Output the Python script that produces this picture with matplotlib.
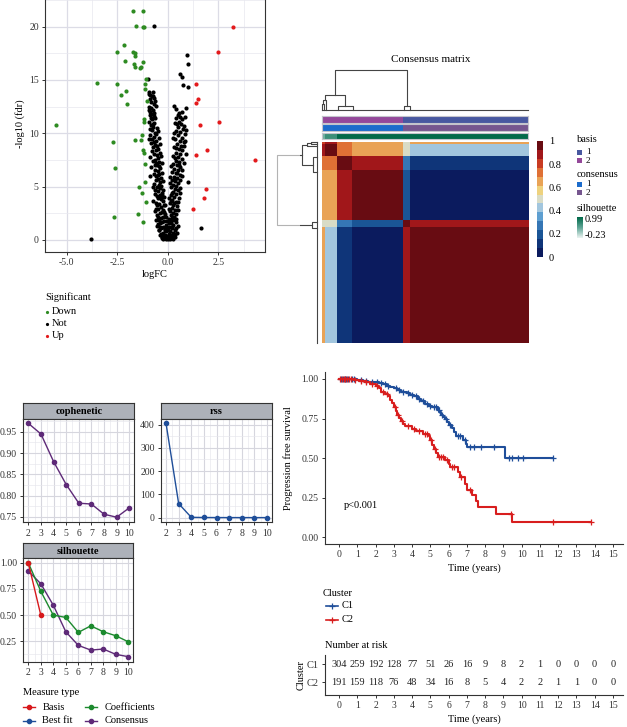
import numpy as np
import matplotlib
matplotlib.use("Agg")
import matplotlib.pyplot as plt
from matplotlib.colors import ListedColormap, LinearSegmentedColormap
from matplotlib.patches import Rectangle

W, H = 627, 727
plt.rcParams["font.family"] = ["Liberation Serif", "DejaVu Serif"]

# ---------------- volcano data ----------------
down_x = [-1.70, -1.21, -1.57, -1.24, -1.16, -2.15, -2.50, -1.70, -1.62, -1.61, -2.13, -1.21,
          -1.67, -1.64, -1.40, -1.34, -1.09, -3.52, -2.52, -1.13, -1.11, -2.08, -2.33, -1.03,
          -2.03, -1.18, -1.18, -5.55, -1.29, -1.64, -1.34, -2.70, -1.21, -1.18, -1.14, -2.61,
          -1.11, -1.44, -1.27, -1.09, -1.49, -2.68, -1.21]
down_y = [21.47, 21.47, 20.1, 19.94, 19.94, 18.3, 17.6, 17.6, 17.5, 17.25, 16.75, 16.7,
          16.5, 16.2, 16.1, 16.25, 15.1, 14.75, 14.6, 14.65, 14.15, 14.0, 13.6, 13.03,
          12.7, 11.3, 11.05, 10.8, 9.8, 9.35, 9.35, 9.2, 8.4, 8.2, 7.15, 6.75,
          5.45, 4.95, 4.45, 3.6, 2.45, 2.2, 1.7]
up_x = [3.25, 2.50, 1.38, 1.48, 1.38, 2.52, 1.60, 1.93, 1.38, 4.32, 1.87, 1.77, 1.26]
up_y = [19.94, 17.6, 14.6, 13.2, 12.8, 11.1, 10.8, 8.45, 8.0, 7.5, 4.8, 3.95, 2.95]
not_x = [-0.66, -3.80, 1.66, 1.02, 0.94, 1.02, 0.62, 0.71, 0.76, 1.00, -1.00,
         -0.95, -0.88, -0.80, -0.72, -0.66, -0.90, -0.62, -0.85, -0.70, -0.92, -0.83, -0.74,
         -0.88, -0.80, -0.70, -0.85, -0.78, -0.95, -0.66,
         -0.72, -0.55, -0.80, -0.50, -0.62, -0.88, -0.70, -0.45, -0.78, -0.58, -0.66, -0.40,
         -0.52, -0.72, -0.48,
         -0.60, -0.40, -0.55, -0.35, -0.50, -0.62, -0.42, -0.30, -0.55, -0.45, -0.38, -0.65,
         -0.50, -0.28, -0.42, -0.58, -0.35, -0.48, -0.25, -0.40, -0.70, -0.32,
         -0.55, -0.38, -0.22, -0.48, -0.30, -0.62, -0.40, -0.18, -0.50, -0.33, -0.26, -0.58,
         -0.42, -0.15, -0.36, -0.48, -0.22, -0.65, -0.30, -0.40,
         -0.12, -0.52, -0.25, -0.35, -0.45, -0.18, -0.28, -0.40, -0.10, -0.55, -0.22, -0.32,
         -0.15, -0.42, -0.08, -0.26, -0.36, -0.12, -0.20, -0.30, -0.05, -0.16, -0.25, -0.10,
         0.30, 0.38, 0.55, 0.48, 0.62, 0.42, 0.72, 0.55, 0.35, 0.66, 0.80, 0.50, 0.75, 0.40, 0.62,
         0.85, 0.48, 0.70, 0.35, 0.58, 0.80, 0.45, 0.65, 0.30, 0.55, 0.72, 0.40, 0.62, 0.28,
         0.50, 0.68,
         0.38, 0.55, 0.25, 0.45, 0.62, 0.32, 0.50, 0.22, 0.40, 0.58, 0.30, 0.45, 0.20, 0.36,
         0.52, 0.26, 0.42,
         0.18, 0.34, 0.48, 0.25, 0.40, 0.15, 0.30, 0.55, 0.22, 0.38, 0.12, 0.28, 0.45, 0.20,
         0.35, 0.10, 0.26,
         0.42, 0.16, 0.32, 0.08, 0.24, 0.38, 0.14, 0.28, 0.06, 0.20, 0.34, 0.10, 0.24, 0.04,
         0.16, 0.28, 0.08, 0.18, 0.02, 0.12,
         -0.05, 0.05, -0.08, 0.12, -0.18, 0.20, -0.02, 0.03, -0.14, 0.10, -0.20, 0.15, -0.28,
         0.22, -0.10, 0.06, -0.35, 0.30, -0.45, 0.35, -0.50, 0.45, -0.60, 0.55, -0.32, 0.36,
         -0.40, 0.42,
         -0.92, -0.75, -0.60, -0.95, -0.68, -0.90, -0.62, -0.75, -0.90, -0.85, -0.60, -0.95,
         -0.85, -0.62, -0.80, -0.70, -0.90, -0.75, -0.62, -0.82, -0.70, -0.88, -0.60, -0.75,
         -0.65, -0.55, -0.72, -0.52, -0.60, -0.48, -0.60, -0.50, -0.45, -0.38, -0.28,
         0.88, 0.70, 0.85, 0.45, 0.90, 0.30, 0.85, 0.25, 0.78, 0.42, 0.88, 0.35, 0.78, 0.68,
         0.15, 0.70, 0.62, 0.12, 0.60, 0.10, 0.62, 0.50, 0.08, 0.48, 0.40, 0.50, 0.45, 0.35,
         0.25, 0.22]
not_y = [20.1, 0.12, 1.15, 5.47, 17.3, 16.5, 15.6, 15.25, 14.5, 14.3, 15.1,
         13.7, 13.6, 13.5, 13.45, 13.3, 13.2, 13.0, 12.9, 12.75, 12.5, 12.35, 12.2,
         12.0, 11.8, 11.6, 11.45, 11.3, 11.1, 11.0,
         10.6, 10.5, 10.3, 10.2, 10.0, 9.85, 9.7, 9.6, 9.45, 9.3, 9.15, 9.0,
         8.85, 8.7, 8.55,
         8.4, 8.2, 8.0, 7.85, 7.7, 7.5, 7.35, 7.2, 7.05, 6.9, 6.75, 6.6,
         6.45, 6.3, 6.15, 6.0, 5.85, 5.7, 5.55, 5.4, 5.25, 5.1,
         4.95, 4.85, 4.7, 4.6, 4.45, 4.3, 4.2, 4.05, 3.95, 3.8, 3.65, 3.5,
         3.4, 3.25, 3.1, 2.95, 2.85, 2.7, 2.6, 2.5,
         2.4, 2.3, 2.2, 2.05, 1.9, 1.8, 1.65, 1.55, 1.45, 1.35, 1.25, 1.1,
         1.0, 0.9, 0.8, 0.7, 0.6, 0.5, 0.4, 0.3, 0.25, 0.15, 0.1, 0.05,
         12.55, 12.3, 11.9, 11.7, 11.55, 11.4, 11.3, 11.1, 11.0, 10.85, 10.7, 10.6, 10.4, 10.25, 10.1,
         9.95, 9.8, 9.6, 9.45, 9.3, 9.2, 9.0, 8.85, 8.7, 8.55, 8.4, 8.2, 8.05, 7.9,
         7.75, 7.6,
         7.45, 7.3, 7.15, 7.0, 6.85, 6.7, 6.55, 6.4, 6.25, 6.1, 5.95, 5.8, 5.65, 5.5,
         5.35, 5.2, 5.05,
         4.95, 4.8, 4.65, 4.5, 4.35, 4.2, 4.05, 3.9, 3.75, 3.6, 3.45, 3.3, 3.15, 3.0,
         2.85, 2.7, 2.55,
         2.45, 2.3, 2.15, 2.0, 1.85, 1.7, 1.55, 1.4, 1.25, 1.1, 0.95, 0.85, 0.7, 0.6,
         0.45, 0.35, 0.25, 0.15, 0.08, 0.05,
         1.8, 1.6, 1.2, 1.9, 2.6, 2.1, 0.4, 0.9, 0.95, 0.3, 3.3, 3.7, 4.2,
         4.4, 2.2, 2.9, 3.9, 3.5, 5.2, 5.7, 6.1, 6.3, 7.2, 7.0, 0.45, 0.55,
         1.2, 1.15,
         13.9, 13.85, 12.6, 12.2, 11.9, 11.7, 11.4, 10.9, 10.4, 10.8, 9.9, 9.5,
         9.1, 8.95, 8.3, 8.1, 7.8, 7.4, 7.0, 6.8, 6.2, 6.0, 5.6, 5.0,
         4.7, 4.1, 3.7, 3.3, 2.9, 2.2, 1.9, 1.5, 0.95, 0.5, 0.2,
         12.4, 12.0, 11.5, 10.9, 10.3, 10.0, 9.3, 9.6, 8.8, 8.6, 8.1, 7.7, 7.2, 6.6,
         6.9, 6.0, 5.6, 5.9, 4.9, 5.3, 4.4, 3.6, 3.9, 2.8, 2.0, 1.3, 0.7, 0.25,
         0.1, 1.2]

# ---------------- consensus matrix data ----------------
group_sizes = [7, 29, 36, 121, 17, 285]
block_values = np.array([
    [0.80, 0.85, 0.70, 0.62, 0.50, 0.62],
    [0.85, 0.99, 0.70, 0.62, 0.50, 0.42],
    [0.70, 0.70, 0.99, 0.85, 0.30, 0.15],
    [0.62, 0.62, 0.85, 0.95, 0.20, 0.03],
    [0.50, 0.50, 0.30, 0.20, 0.99, 0.85],
    [0.62, 0.42, 0.15, 0.03, 0.85, 0.96]])
group_basis = [2, 2, 2, 2, 1, 1]
group_consensus = [1, 1, 1, 1, 2, 2]
group_silhouette = [0.3, 0.6, 0.97, 0.97, 0.97, 0.97]
dendro_leaves = [0.003, 0.012, 0.021, 0.077, 0.153, 0.40, 0.427]
dendro_merges = [(0, 1, 0.14), (7, 2, 0.25), (3, 4, 0.10), (8, 9, 0.375), (5, 6, 0.108), (10, 11, 1.0)]
heat_colors = ["#0b1b5e", "#0f3579", "#1a5596", "#3576b5", "#5e9fd1", "#a2c6de", "#d9dcc6",
               "#eed27e", "#e9a356", "#df7035", "#c83b22", "#a1171a", "#680c12"]
basis_colors = {1: "#4858a0", 2: "#94489a"}
consensus_colors = {1: "#1c6ccc", 2: "#76568f"}

# ---------------- NMF rank survey ----------------
ranks = [2, 3, 4, 5, 6, 7, 8, 9, 10]
cophenetic = [0.970, 0.945, 0.880, 0.826, 0.782, 0.780, 0.756, 0.749, 0.771]
rss = [405, 60, 1.2, 0.4, 0.2, 0.1, 0.05, 0.02, 0.01]
sil_basis = [1.00, 0.50]
sil_coef = [1.00, 0.728, 0.50, 0.478, 0.335, 0.398, 0.341, 0.303, 0.245]
sil_cons = [0.922, 0.80, 0.595, 0.341, 0.211, 0.166, 0.176, 0.125, 0.103]
measure_colors = {"Basis": "#d7191c", "Best fit": "#1f4e99",
                  "Coefficients": "#1c8a2e", "Consensus": "#5e2a78"}

# ---------------- survival ----------------
c1_times = [0, 0.6, 1.0, 1.3, 1.6, 1.9, 2.2, 2.4, 2.6, 2.8, 3.0, 3.2, 3.4, 3.7, 3.9, 4.1, 4.3,
            4.5, 4.7, 4.9, 5.1, 5.4, 5.5, 5.6, 5.7, 5.8, 5.9, 6.0, 6.2, 6.3, 6.4, 6.8, 6.95,
            7.0, 9.1, 11.7]
c1_surv = [1.0, 0.997, 0.993, 0.988, 0.984, 0.978, 0.972, 0.966, 0.958, 0.95, 0.94, 0.93,
           0.918, 0.91, 0.90, 0.89, 0.875, 0.86, 0.845, 0.83, 0.82, 0.805, 0.79, 0.775, 0.76,
           0.745, 0.73, 0.71, 0.69, 0.665, 0.64, 0.615, 0.59, 0.57, 0.50, 0.50]
c2_times = [0, 0.8, 1.1, 1.4, 1.7, 2.0, 2.2, 2.3, 2.5, 2.7, 2.8, 2.9, 3.0, 3.1, 3.2, 3.3, 3.4,
            3.5, 3.6, 4.0, 4.2, 4.6, 4.9, 5.0, 5.1, 5.2, 5.3, 5.4, 5.8, 6.0, 6.1, 6.5, 6.6,
            6.9, 7.0, 7.3, 7.5, 7.6, 8.6, 9.5, 13.8]
c2_surv = [1.0, 0.995, 0.985, 0.978, 0.97, 0.958, 0.94, 0.92, 0.905, 0.89, 0.87, 0.85, 0.82,
           0.795, 0.775, 0.755, 0.735, 0.715, 0.70, 0.685, 0.67, 0.655, 0.64, 0.615, 0.585,
           0.555, 0.53, 0.51, 0.49, 0.465, 0.445, 0.41, 0.38, 0.34, 0.30, 0.265, 0.23, 0.19,
           0.15, 0.10, 0.10]
c1_censor = [0.1, 0.2, 0.3, 0.4, 0.5, 0.7, 0.8, 1.2, 1.5, 1.8, 2.1, 2.3, 2.5, 2.7, 3.1, 3.3,
             3.5, 3.8, 4.0, 4.2, 4.4, 4.6, 4.8, 5.0, 5.2, 5.3, 5.45, 5.65, 5.85, 6.1, 6.5,
             6.6, 6.9, 7.2, 7.4, 7.8, 8.5, 9.3, 9.5, 9.8, 10.1, 11.7]
c2_censor = [0.05, 0.15, 0.25, 0.35, 0.45, 0.55, 0.65, 0.9, 1.2, 1.5, 1.8, 2.1, 2.4, 2.6,
             3.05, 3.25, 3.45, 3.8, 4.1, 4.4, 4.7, 4.8, 5.05, 5.25, 5.5, 5.6, 5.7, 5.9, 6.2,
             6.3, 6.7, 7.2, 9.4, 11.7, 13.8]
risk_times = list(range(16))
risk_c1 = [304, 259, 192, 128, 77, 51, 26, 16, 9, 8, 2, 1, 0, 0, 0, 0]
risk_c2 = [191, 159, 118, 76, 48, 34, 16, 8, 5, 4, 2, 2, 1, 1, 0, 0]
km_colors = {"C1": "#1f4e9a", "C2": "#d81e1e"}

fig = plt.figure(figsize=(W / 100, H / 100), dpi=100)


def px_axes(x0, y0, x1, y1):
    return fig.add_axes([x0 / W, 1 - y1 / H, (x1 - x0) / W, (y1 - y0) / H])


def style_ticks(ax, size=7):
    ax.tick_params(labelsize=size, length=2.5, width=0.7, color="#333333",
                   labelcolor="#333333", pad=2)
    ax.tick_params(which="minor", length=0)


# ---------------- volcano ----------------
vol = px_axes(45, -5.4, 265, 252)
vol.scatter(not_x, not_y, s=9, color="black", lw=0, zorder=3)
vol.scatter(down_x, down_y, s=9, color="#2e8b22", lw=0, zorder=3)
vol.scatter(up_x, up_y, s=9, color="#e31a1c", lw=0, zorder=3)
vol.set_xlim(-6.08, 4.81)
vol.set_ylim(-1.125, 23.0)
vol.set_xticks([-5.0, -2.5, 0.0, 2.5])
vol.set_xticklabels(["-5.0", "-2.5", "0.0", "2.5"])
vol.set_xticks([-3.75, -1.25, 1.25, 3.75], minor=True)
vol.set_yticks([0, 5, 10, 15, 20])
vol.set_yticks([2.5, 7.5, 12.5, 17.5, 22.5], minor=True)
vol.grid(which="major", color="#dcdce6", lw=0.9)
vol.grid(which="minor", color="#e8e8ef", lw=0.5)
vol.set_axisbelow(True)
for s in vol.spines.values():
    s.set_color("#333333")
    s.set_linewidth(0.8)
style_ticks(vol)
vol.set_xlabel("logFC", fontsize=7.5, labelpad=2)
vol.set_ylabel("-log10 (fdr)", fontsize=7.5, labelpad=3)

# ---------------- consensus heatmap ----------------
labels = np.repeat(np.arange(len(group_sizes)), group_sizes)
cons_mat = block_values[np.ix_(labels, labels)]
hm = px_axes(321.7, 141.7, 528.3, 342.7)
im = hm.imshow(cons_mat, cmap=ListedColormap(heat_colors), vmin=0, vmax=1,
               aspect="auto", interpolation="nearest")
hm.axis("off")

track_rows = [
    (116, 122.7, np.array([basis_colors[group_basis[g]] for g in labels])),
    (124.3, 131, np.array([consensus_colors[group_consensus[g]] for g in labels])),
]
for y0, y1, cols in track_rows:
    ta = px_axes(321.7, y0, 528.3, y1)
    rgb = np.array([matplotlib.colors.to_rgb(c) for c in cols])[None, :, :]
    ta.imshow(rgb, aspect="auto", interpolation="nearest")
    ta.set_xticks([]); ta.set_yticks([])
    for s in ta.spines.values():
        s.set_color("#c4c4cc"); s.set_linewidth(0.8)
sil_cmap = LinearSegmentedColormap.from_list("sil", ["#eaf3f0", "#5fa596", "#006948"])
ta = px_axes(321.7, 132.7, 528.3, 139.3)
ta.imshow(np.array([group_silhouette[g] for g in labels])[None, :], cmap=sil_cmap,
          vmin=-0.23, vmax=0.99, aspect="auto", interpolation="nearest")
ta.set_xticks([]); ta.set_yticks([])
for s in ta.spines.values():
    s.set_color("#c4c4cc"); s.set_linewidth(0.8)


def draw_dendro(ax, orient):
    pos = list(dendro_leaves)
    hts = [0.0] * len(dendro_leaves)
    kw = dict(color="#444444", lw=0.8, clip_on=False)
    for a, b, h in dendro_merges:
        xs = [pos[a], pos[a], pos[b], pos[b]]
        ys = [hts[a], h, h, hts[b]]
        if orient == "top":
            ax.plot(xs, ys, **kw)
        else:
            ax.plot(ys, xs, **kw)
        pos.append((pos[a] + pos[b]) / 2)
        hts.append(h)
    if orient == "top":
        ax.plot([0, 1], [0, 0], **kw)
    else:
        ax.plot([0, 0], [0, 1], **kw)
    ax.axis("off")


dt = px_axes(321.7, 70, 528.3, 110)
dt.set_xlim(0, 1); dt.set_ylim(0, 1)
draw_dendro(dt, "top")
dl = px_axes(277, 141.7, 316.7, 342.7)
dl.set_xlim(1, 0); dl.set_ylim(1, 0)
draw_dendro(dl, "left")

cax = px_axes(536.7, 140.7, 543.3, 257.3)
cb = fig.colorbar(im, cax=cax, ticks=[0, 0.2, 0.4, 0.6, 0.8, 1])
cb.ax.set_yticklabels(["0", "0.2", "0.4", "0.6", "0.8", "1"])
cb.outline.set_visible(False)
cb.ax.tick_params(length=0, labelsize=7.5, pad=4)

sax = px_axes(577, 217.3, 582.5, 238.3)
sax.imshow(np.linspace(0.99, -0.23, 50)[:, None], cmap=sil_cmap, vmin=-0.23, vmax=0.99,
           aspect="auto")
sax.axis("off")

# ---------------- NMF rank survey panels ----------------


def nmf_panel(box, title, ylim, yticks, yticklabels, yminor):
    x0, y0, x1, y1 = box
    sh = 15.4
    st = px_axes(x0, y0, x1, y0 + sh)
    st.set_facecolor("#adb1b9")
    st.set_xticks([]); st.set_yticks([])
    for s in st.spines.values():
        s.set_color("#333333"); s.set_linewidth(0.8)
    st.text(0.5, 0.45, title, transform=st.transAxes, ha="center", va="center",
            fontsize=7.5, fontweight="bold")
    ax = px_axes(x0, y0 + sh, x1, y1)
    ax.set_xlim(1.6, 10.4)
    ax.set_ylim(*ylim)
    ax.set_xticks(ranks)
    ax.set_xticks(np.arange(2.5, 10.0, 1.0), minor=True)
    ax.set_yticks(yticks)
    ax.set_yticklabels(yticklabels)
    ax.set_yticks(yminor, minor=True)
    ax.grid(which="major", color="#d6d6de", lw=0.8)
    ax.grid(which="minor", color="#e6e6ec", lw=0.45)
    ax.set_axisbelow(True)
    for s in ax.spines.values():
        s.set_color("#333333"); s.set_linewidth(0.8)
    style_ticks(ax)
    return ax


ax_c = nmf_panel((23.3, 403.3, 134.3, 522.3), "cophenetic", (0.737, 0.981),
                 [0.75, 0.80, 0.85, 0.90, 0.95], ["0.75", "0.80", "0.85", "0.90", "0.95"],
                 [0.775, 0.825, 0.875, 0.925, 0.975])
ax_c.plot(ranks, cophenetic, "-o", color=measure_colors["Consensus"], ms=3, lw=1)

ax_r = nmf_panel((161, 403.3, 272, 522.3), "rss", (-20.25, 425.25),
                 [0, 100, 200, 300, 400], ["0", "100", "200", "300", "400"],
                 [50, 150, 250, 350])
ax_r.plot(ranks, rss, "-o", color=measure_colors["Best fit"], ms=3, lw=1)

ax_s = nmf_panel((23.3, 542.7, 133.3, 661.7), "silhouette", (0.055, 1.045),
                 [0.25, 0.50, 0.75, 1.00], ["0.25", "0.50", "0.75", "1.00"],
                 [0.125, 0.375, 0.625, 0.875])
ax_s.plot(ranks, sil_cons, "-o", color=measure_colors["Consensus"], ms=3, lw=1)
ax_s.plot(ranks, sil_coef, "-o", color=measure_colors["Coefficients"], ms=3, lw=1)
ax_s.plot(ranks[:2], sil_basis, "-o", color=measure_colors["Basis"], ms=3, lw=1)

# ---------------- Kaplan-Meier ----------------
km = px_axes(325, 371.7, 623.3, 544)
for name, t, s, cens in [("C1", c1_times, c1_surv, c1_censor), ("C2", c2_times, c2_surv, c2_censor)]:
    t = np.array(t); s = np.array(s)
    km.step(t, s, where="post", color=km_colors[name], lw=1.5)
    idx = np.searchsorted(t, cens, side="right") - 1
    km.plot(cens, s[idx], "+", color=km_colors[name], ms=4, mew=0.9)
km.set_xlim(-0.77, 15.57)
km.set_ylim(-0.042, 1.046)
km.set_xticks(risk_times)
km.set_yticks([0, 0.25, 0.5, 0.75, 1.0])
km.set_yticklabels(["0.00", "0.25", "0.50", "0.75", "1.00"])
for side in ["top", "right"]:
    km.spines[side].set_visible(False)
for side in ["left", "bottom"]:
    km.spines[side].set_color("#333333"); km.spines[side].set_linewidth(0.8)
style_ticks(km)
km.set_xlabel("Time (years)", fontsize=7.5, labelpad=3)
km.set_ylabel("Progression free survival", fontsize=7.5, labelpad=6)
km.text(0.27, 0.2, "p<0.001", fontsize=7.5, va="center")

rt = px_axes(325, 655, 623.3, 695)
for yv, counts in [(2, risk_c1), (1, risk_c2)]:
    for tx, n in zip(risk_times, counts):
        rt.text(tx, yv, str(n), ha="center", va="center", fontsize=7.5, color="#222222")
rt.set_xlim(-0.77, 15.57)
rt.set_ylim(0.294, 2.52)
rt.set_xticks(risk_times)
rt.set_yticks([2, 1])
rt.set_yticklabels(["C1", "C2"])
for side in ["top", "right"]:
    rt.spines[side].set_visible(False)
for side in ["left", "bottom"]:
    rt.spines[side].set_color("#333333"); rt.spines[side].set_linewidth(0.8)
style_ticks(rt)
rt.tick_params(axis="y", labelsize=7.5)
rt.set_xlabel("Time (years)", fontsize=7.5, labelpad=3)
rt.set_ylabel("Cluster", fontsize=7.5, labelpad=1)

# ---------------- overlay: titles and legends ----------------
ov = fig.add_axes([0, 0, 1, 1], facecolor="none")
ov.set_xlim(0, W); ov.set_ylim(H, 0)
ov.axis("off")
ov.set_zorder(10)
ov.add_patch(Rectangle((267, 135), 33, 212, color="white", alpha=0.6, lw=0))

ov.text(430.7, 60, "Consensus matrix", ha="center", va="center", fontsize=8)

# volcano legend
ov.text(45, 297.3, "Significant", fontsize=7.5, va="center")
for yy, lab, col in [(311.7, "Down", "#2e8b22"), (323.7, "Not", "black"), (335.7, "Up", "#e31a1c")]:
    ov.plot(46.8, yy, "o", ms=2.3, color=col, mew=0)
    ov.text(51.7, yy, lab, fontsize=7.5, va="center")

# annotation legend
ov.text(576.7, 140, "basis", fontsize=7.5, va="center")
ov.text(576.7, 174.3, "consensus", fontsize=7.5, va="center")
ov.text(576.7, 208.3, "silhouette", fontsize=7.5, va="center")
for yy, col, lab in [(152.5, basis_colors[1], "1"), (160.8, basis_colors[2], "2"),
                     (184.5, consensus_colors[1], "1"), (192.8, consensus_colors[2], "2")]:
    ov.add_patch(Rectangle((577, yy - 2.6), 5.2, 5.2, color=col, lw=0))
    ov.text(586, yy, lab, fontsize=6.6, va="center")
ov.text(584.8, 219.3, "0.99", fontsize=7.5, va="center")
ov.text(584.8, 235.3, "-0.23", fontsize=7.5, va="center")

# measure legend
ov.text(23, 692.7, "Measure type", fontsize=7.5, va="center")
for xx, yy, lab in [(29, 707.3, "Basis"), (29, 720.7, "Best fit"),
                    (90.7, 707.3, "Coefficients"), (90.7, 720.7, "Consensus")]:
    col = measure_colors[lab]
    ov.plot([xx - 6, xx + 6], [yy, yy], color=col, lw=1)
    ov.plot(xx, yy, "o", color=col, ms=3)
    ov.text(xx + 13.5, yy, lab, fontsize=7.5, va="center")

# cluster legend
ov.text(323, 593.3, "Cluster", fontsize=7.5, va="center")
for yy, lab in [(606, "C1"), (619.5, "C2")]:
    col = km_colors[lab]
    ov.plot([325.5, 337.5], [yy, yy], color=col, lw=1.2)
    ov.plot(331.5, yy, "+", color=col, ms=4, mew=0.9)
    ov.text(341.7, yy, lab, fontsize=7.5, va="center")

ov.text(325, 645, "Number at risk", fontsize=7.5, va="center")

fig.savefig("out.png", dpi=100)
